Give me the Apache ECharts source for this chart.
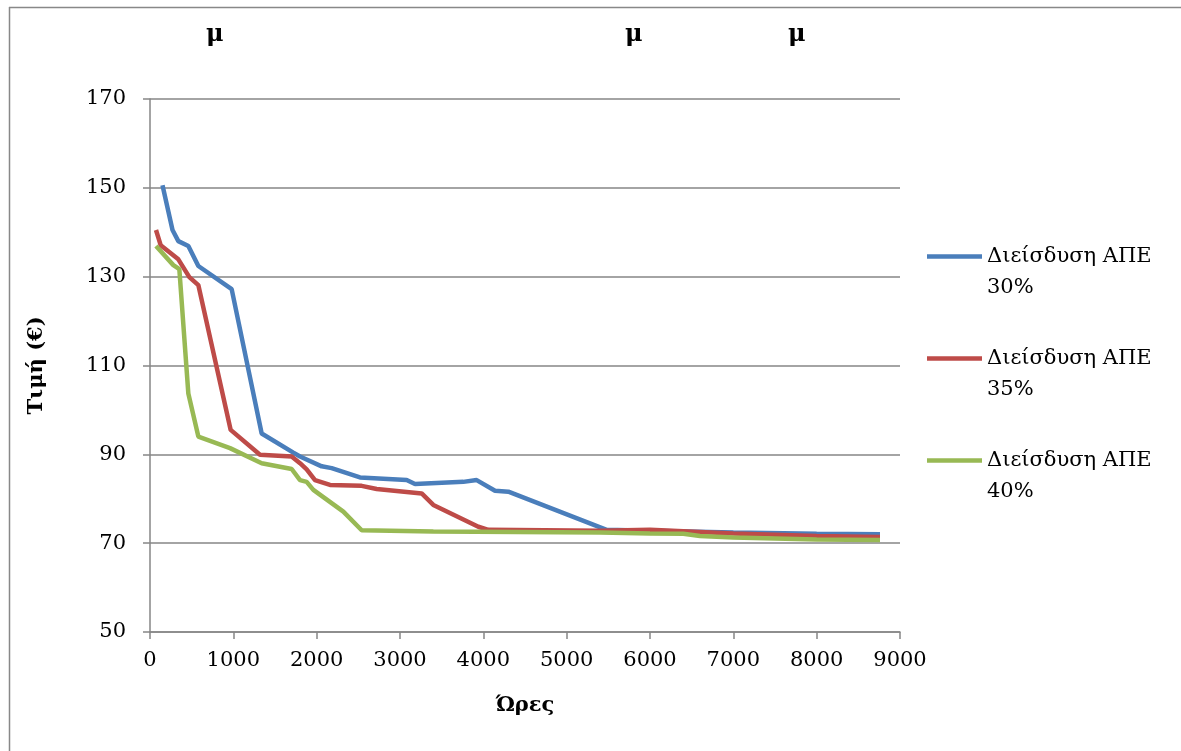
<!DOCTYPE html>
<html>
<head>
<meta charset="utf-8">
<script src="https://cdn.jsdelivr.net/npm/echarts@6/dist/echarts.min.js"></script>
<style>
html,body{margin:0;padding:0;background:#fff;}
#chart{width:1181px;height:751px;}
</style>
</head>
<body>
<div id="chart"></div>
<script>
// ---- data ----
const seriesNames = ['Διείσδυση ΑΠΕ 30%', 'Διείσδυση ΑΠΕ 35%', 'Διείσδυση ΑΠΕ 40%'];
const hours30 = [150, 270, 340, 460, 580, 980, 1340, 1720, 1800, 2060, 2180, 2520, 3080, 3180, 3760, 3920, 4140, 4300, 5480, 6000, 7000, 8000, 8760];
const price30 = [150.6, 140.5, 138.0, 136.9, 132.4, 127.2, 94.7, 90.4, 89.5, 87.3, 86.9, 84.8, 84.2, 83.3, 83.8, 84.2, 81.8, 81.6, 73.0, 72.8, 72.4, 72.1, 72.0];
const hours35 = [72, 128, 340, 472, 580, 968, 1320, 1700, 1800, 1880, 1980, 2160, 2540, 2720, 3260, 3400, 3940, 4060, 5400, 6000, 7000, 8000, 8760];
const price35 = [140.5, 137.1, 133.9, 129.9, 128.1, 95.5, 89.9, 89.5, 88.0, 86.6, 84.2, 83.1, 82.9, 82.2, 81.2, 78.6, 73.7, 73.0, 72.8, 73.0, 72.2, 71.6, 71.4];
const hours40 = [72, 280, 352, 460, 580, 960, 1340, 1700, 1800, 1880, 1960, 2320, 2540, 3400, 5400, 6000, 6400, 6600, 7000, 8000, 8760];
const price40 = [136.9, 132.6, 131.7, 103.7, 94.0, 91.4, 88.0, 86.7, 84.2, 83.8, 82.0, 77.1, 72.9, 72.6, 72.4, 72.2, 72.1, 71.6, 71.3, 70.8, 70.7];
const yTicks = [50, 70, 90, 110, 130, 150, 170];
const xTicks = [0, 1000, 2000, 3000, 4000, 5000, 6000, 7000, 8000, 9000];
const yAxisName = 'Τιμή (€)';
const xAxisName = 'Ώρες';
const stray = ['μ', 'μ', 'μ'];

const zip = (a, b) => a.map((v, i) => [v, b[i]]);
const colors = ['#4A7EBB', '#BE4B48', '#98B954'];
const FONT = 'DejaVu Serif';

const chart = echarts.init(document.getElementById('chart'), null, {renderer: 'canvas'});
chart.setOption({
  animation: false,
  backgroundColor: '#fff',
  color: colors,
  grid: {left: 150, right: 281, top: 99, bottom: 119, containLabel: false},
  xAxis: {
    type: 'value', min: xTicks[0], max: xTicks[xTicks.length - 1], interval: 1000,
    name: xAxisName, nameLocation: 'middle', nameGap: 63,
    nameTextStyle: {fontFamily: FONT, fontWeight: 'bold', fontSize: 21, color: '#000'},
    axisLine: {show: true, lineStyle: {color: '#868686', width: 1.5}},
    axisTick: {show: true, length: 7, lineStyle: {color: '#868686', width: 1.5}},
    splitLine: {show: false},
    axisLabel: {fontFamily: FONT, fontSize: 21, color: '#000', margin: 18, formatter: v => String(v)}
  },
  yAxis: {
    type: 'value', min: yTicks[0], max: yTicks[yTicks.length - 1], interval: 20,
    name: yAxisName, nameLocation: 'middle', nameGap: 103, nameRotate: 90,
    nameTextStyle: {fontFamily: FONT, fontWeight: 'bold', fontSize: 21, color: '#000'},
    axisLine: {show: true, lineStyle: {color: '#868686', width: 1.5}},
    axisTick: {show: true, length: 7, lineStyle: {color: '#868686', width: 1.5}},
    splitLine: {show: true, lineStyle: {color: '#868686', width: 1.5}},
    axisLabel: {fontFamily: FONT, fontSize: 21, color: '#000', margin: 24, formatter: v => String(v)}
  },
  legend: {
    orient: 'vertical', left: 927, top: 241, padding: 0,
    itemWidth: 55, itemHeight: 35.5, itemGap: 40,
    icon: 'path://M0,0 L55,0 L55,4.5 L0,4.5 Z M0,35.5',
    data: seriesNames,
    formatter: n => n.replace(/ (\d)/, '\n$1'),
    textStyle: {fontFamily: FONT, fontSize: 21, color: '#000', lineHeight: 31}
  },
  graphic: [
    {type: 'line', shape: {x1: 9, y1: 7.5, x2: 1181, y2: 7.5}, style: {stroke: '#888', lineWidth: 1.5}},
    {type: 'line', shape: {x1: 9.5, y1: 7, x2: 9.5, y2: 751}, style: {stroke: '#888', lineWidth: 1.5}},
    {type: 'text', left: 206, top: 23, style: {text: stray[0], font: 'bold 24px "DejaVu Serif"', fill: '#000'}},
    {type: 'text', left: 625, top: 23, style: {text: stray[1], font: 'bold 24px "DejaVu Serif"', fill: '#000'}},
    {type: 'text', left: 788, top: 23, style: {text: stray[2], font: 'bold 24px "DejaVu Serif"', fill: '#000'}}
  ],
  series: [
    {name: seriesNames[0], type: 'line', symbol: 'none', data: zip(hours30, price30), lineStyle: {width: 4.5, color: colors[0]}, z: 3},
    {name: seriesNames[1], type: 'line', symbol: 'none', data: zip(hours35, price35), lineStyle: {width: 4.5, color: colors[1]}, z: 4},
    {name: seriesNames[2], type: 'line', symbol: 'none', data: zip(hours40, price40), lineStyle: {width: 4.5, color: colors[2]}, z: 5}
  ]
});
</script>
</body>
</html>
